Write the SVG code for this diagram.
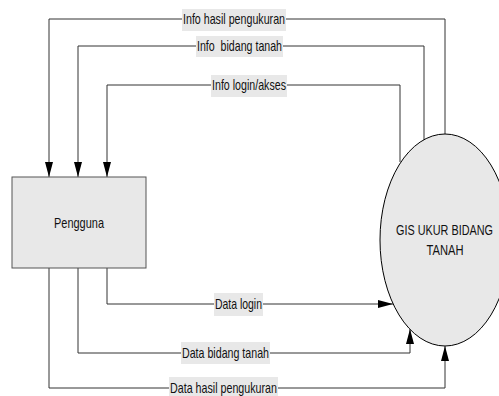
<svg xmlns="http://www.w3.org/2000/svg" width="499" height="396" viewBox="0 0 499 396">
<style>
.ln{fill:none;stroke:#333;stroke-width:1}
.lbg{fill:#e8e8e8}
.t{font-family:"Liberation Sans",Arial,sans-serif;font-size:15px;fill:#111;white-space:pre}
.nt{font-family:"Liberation Sans",Arial,sans-serif;font-size:15px;fill:#111;text-anchor:middle}
</style>
<defs>
<marker id="ah" markerUnits="userSpaceOnUse" markerWidth="16" markerHeight="9" refX="15" refY="4" orient="auto">
<path d="M0,0 L15,4 L0,8 z" fill="#000"/>
</marker>
</defs>
<rect width="499" height="396" fill="#fff"/>
<g id="connectors">
<path class="ln" d="M445,134 V19 H49 V177" marker-end="url(#ah)"/>
<path class="ln" d="M424,140 V46 H78 V177" marker-end="url(#ah)"/>
<path class="ln" d="M400,162 V85 H107 V177" marker-end="url(#ah)"/>
<path class="ln" d="M107,268 V304 H393" marker-end="url(#ah)"/>
<path class="ln" d="M78,268 V353 H410 V329" marker-end="url(#ah)"/>
<path class="ln" d="M49,268 V388 H445 V346" marker-end="url(#ah)"/>
<rect class="lbg" x="182" y="9" width="104" height="22"/>
<text class="t" x="183" y="24" textLength="102" lengthAdjust="spacingAndGlyphs">Info hasil pengukuran</text>
<rect class="lbg" x="196" y="36" width="87" height="21"/>
<text class="t" x="197" y="51" textLength="85" lengthAdjust="spacingAndGlyphs">Info  bidang tanah</text>
<rect class="lbg" x="211" y="75" width="76" height="22"/>
<text class="t" x="212" y="90" textLength="74" lengthAdjust="spacingAndGlyphs">Info login/akses</text>
<rect class="lbg" x="214" y="293" width="49" height="23"/>
<text class="t" x="215" y="309" textLength="47" lengthAdjust="spacingAndGlyphs">Data login</text>
<rect class="lbg" x="181" y="342" width="89" height="22"/>
<text class="t" x="182" y="358" textLength="87" lengthAdjust="spacingAndGlyphs">Data bidang tanah</text>
<rect class="lbg" x="169" y="377" width="109" height="19"/>
<text class="t" x="170" y="393" textLength="107" lengthAdjust="spacingAndGlyphs">Data hasil pengukuran</text>
</g>
<g id="pengguna">
<rect x="12" y="177" width="134" height="91" fill="#e8e8e8" stroke="#555" stroke-width="1"/>
<text class="nt" x="79" y="228" textLength="50" lengthAdjust="spacingAndGlyphs">Pengguna</text>
</g>
<g id="gis">
<ellipse cx="445" cy="240" rx="65" ry="106" fill="#e8e8e8" stroke="#000" stroke-width="1"/>
<text class="nt" x="444.5" y="235" textLength="97" lengthAdjust="spacingAndGlyphs">GIS UKUR BIDANG</text>
<text class="nt" x="445" y="255" textLength="37" lengthAdjust="spacingAndGlyphs">TANAH</text>
</g>
</svg>
